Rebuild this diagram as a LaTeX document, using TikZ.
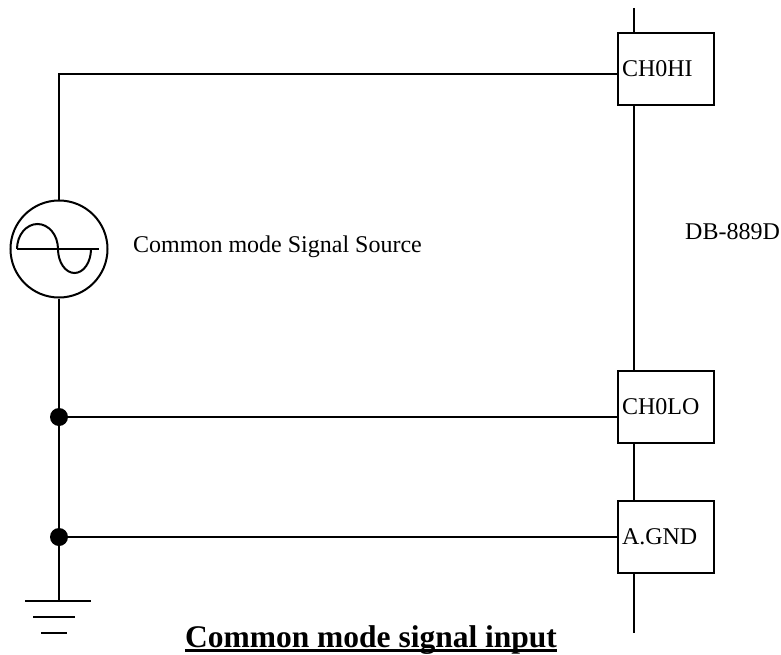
\documentclass[tikz,border=0pt]{standalone}
\usepackage{fontspec}
\setmainfont{Liberation Serif}
\usetikzlibrary{positioning}

\begin{document}
\begin{tikzpicture}
 [x=1pt, y=-1pt,
  wire/.style={line width=2pt},
  pin/.style={rectangle, draw, line width=2pt, text width=88pt, inner xsep=4pt,
              inner ysep=0pt, minimum height=72pt, align=left,
              font=\fontsize{24}{28}\selectfont},
  junction/.style={circle, fill, inner sep=0pt, minimum size=18pt},
  note/.style={inner sep=0pt, anchor=base west, font=\fontsize{24}{28}\selectfont},
  heading/.style={inner sep=0pt, anchor=base, font=\fontsize{31.5}{36}\selectfont\bfseries}]
 \useasboundingbox (0,0) rectangle (781,655);

 % board pins on the bus
 \node[pin] (ch0hi)                       at (666,69) {CH0HI};
 \node[pin] (ch0lo) [below=264pt of ch0hi]            {CH0LO};
 \node[pin] (agnd)  [below=56pt of ch0lo]             {A.GND};
 \coordinate (bustop) at (634,8);
 \coordinate (busend) at (634,633);
 \draw[wire] (bustop) -- (ch0hi.north -| bustop);
 \draw[wire] (ch0hi.south -| bustop) -- (ch0lo.north -| bustop);
 \draw[wire] (ch0lo.south -| bustop) -- (agnd.north -| bustop);
 \draw[wire] (agnd.south -| bustop) -- (busend);

 % signal source
 \node[circle, draw, line width=2pt, minimum size=97pt, inner sep=0pt] (src) at (59,249) {};
 \draw[wire] (17,249) -- (99,249);
 \draw[wire] (17,249)
   arc[start angle=180, end angle=0, x radius=20.5pt, y radius=25pt]
   arc[start angle=180, end angle=360, x radius=16.5pt, y radius=24pt];

 \node[junction] (j1) at (59,417) {};
 \node[junction] (j2) at (59,537) {};
 \coordinate (earth) at (59,601);

 \draw[wire] (src.north) |- ([yshift=-5pt]ch0hi.west);
 \draw[wire] (src.south) -- (j1) -- (j2) -- (earth);
 \draw[wire] (j1) -- (j1 -| ch0lo.west);
 \draw[wire] (j2) -- (j2 -| agnd.west);

 % ground
 \draw[wire] ([xshift=-34pt]earth) -- ([xshift=32pt]earth);
 \draw[wire] ([xshift=-26pt,yshift=-16pt]earth) -- ([xshift=16pt,yshift=-16pt]earth);
 \draw[wire] ([xshift=-18pt,yshift=-32pt]earth) -- ([xshift=8pt,yshift=-32pt]earth);

 % texts
 \node[note] (srcname) at (133,252) {Common mode Signal Source};
 \node[note] (board)   at (685,239) {DB-889D};
 \node[heading] (title) at (371,647) {Common mode signal input};
 \draw[line width=3pt] ([yshift=-3.5pt]title.base west) -- ([yshift=-3.5pt]title.base east);
\end{tikzpicture}
\end{document}
